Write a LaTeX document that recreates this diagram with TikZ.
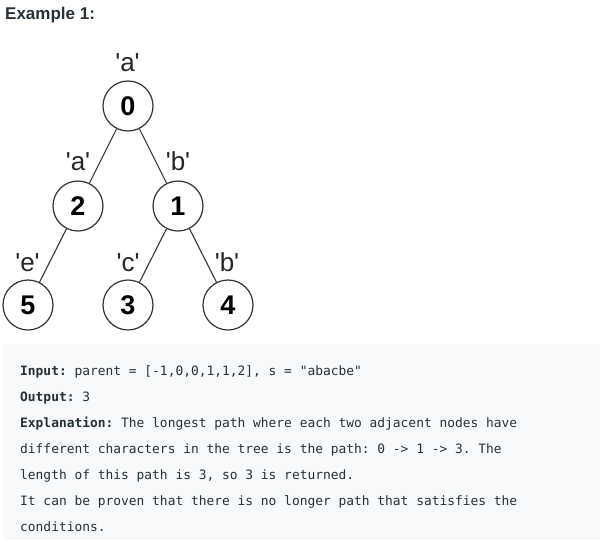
\documentclass[tikz,border=0pt]{standalone}
\usepackage{fontspec}
\setmainfont{Liberation Sans}
\newfontfamily\codefont{DejaVu Sans Mono}

\definecolor{txtcol}{HTML}{263238}
\definecolor{boxcol}{HTML}{F7F9FA}
\definecolor{edgecol}{HTML}{333333}

\newcommand{\chq}[1]{\textquotesingle#1\textquotesingle}

\tikzset{
    treenode/.style={circle, draw=edgecol, line width=1.2pt, minimum size=50pt, inner sep=0pt,
        font=\fontsize{27}{27}\selectfont\bfseries},
    charlabel/.style={anchor=base, inner sep=0pt, text=black!85,
        font=\fontsize{26}{26}\selectfont},
    codeline/.style={anchor=base west, inner sep=0pt, text=txtcol,
        font=\codefont\fontsize{12.9}{13}\selectfont\frenchspacing},
    treeedge/.style={draw=edgecol, line width=1.1pt}
}

\begin{document}
\begin{tikzpicture}[x=1pt, y=-1pt]
            \useasboundingbox (0,0) rectangle (600,542);

            \node[anchor=base west, inner sep=0pt, text=txtcol, font=\fontsize{17}{17}\selectfont\bfseries] (title) at (5,19.5) {Example 1:};

            % Tree nodes
            \node[treenode] (n0) at (128,106) {0};
            \node[treenode] (n2) at (78,206) {2};
            \node[treenode] (n1) at (178,206) {1};
            \node[treenode] (n5) at (28,305) {5};
            \node[treenode] (n3) at (128,305) {3};
            \node[treenode] (n4) at (228,305) {4};

            \draw[treeedge] (n0) -- (n2);
            \draw[treeedge] (n0) -- (n1);
            \draw[treeedge] (n2) -- (n5);
            \draw[treeedge] (n1) -- (n3);
            \draw[treeedge] (n1) -- (n4);

            % Characters of the nodes
            \node[charlabel] (c0) at (127.5,71.5) {\chq{a}};
            \node[charlabel] (c2) at (78,170) {\chq{a}};
            \node[charlabel] (c1) at (178,170) {\chq{b}};
            \node[charlabel] (c5) at (27.5,271) {\chq{e}};
            \node[charlabel] (c3) at (128,271) {\chq{c}};
            \node[charlabel] (c4) at (227,271) {\chq{b}};

            % Example box
            \fill[boxcol] (3,344) rectangle (600,540);

            \node[codeline] (input) at (20,375) {\textbf{Input:} parent = [-1,0,0,1,1,2], s = "abacbe"};
            \node[codeline] (output) at (20,401) {\textbf{Output:} 3};
            \node[codeline] (expl1) at (20,427) {\textbf{Explanation:} The longest path where each two adjacent nodes have};
            \node[codeline] (expl2) at (20,453) {different characters in the tree is the path: 0 -> 1 -> 3. The};
            \node[codeline] (expl3) at (20,479) {length of this path is 3, so 3 is returned.};
            \node[codeline] (expl4) at (20,505) {It can be proven that there is no longer path that satisfies the};
            \node[codeline] (expl5) at (20,531) {conditions.};
\end{tikzpicture}
\end{document}
